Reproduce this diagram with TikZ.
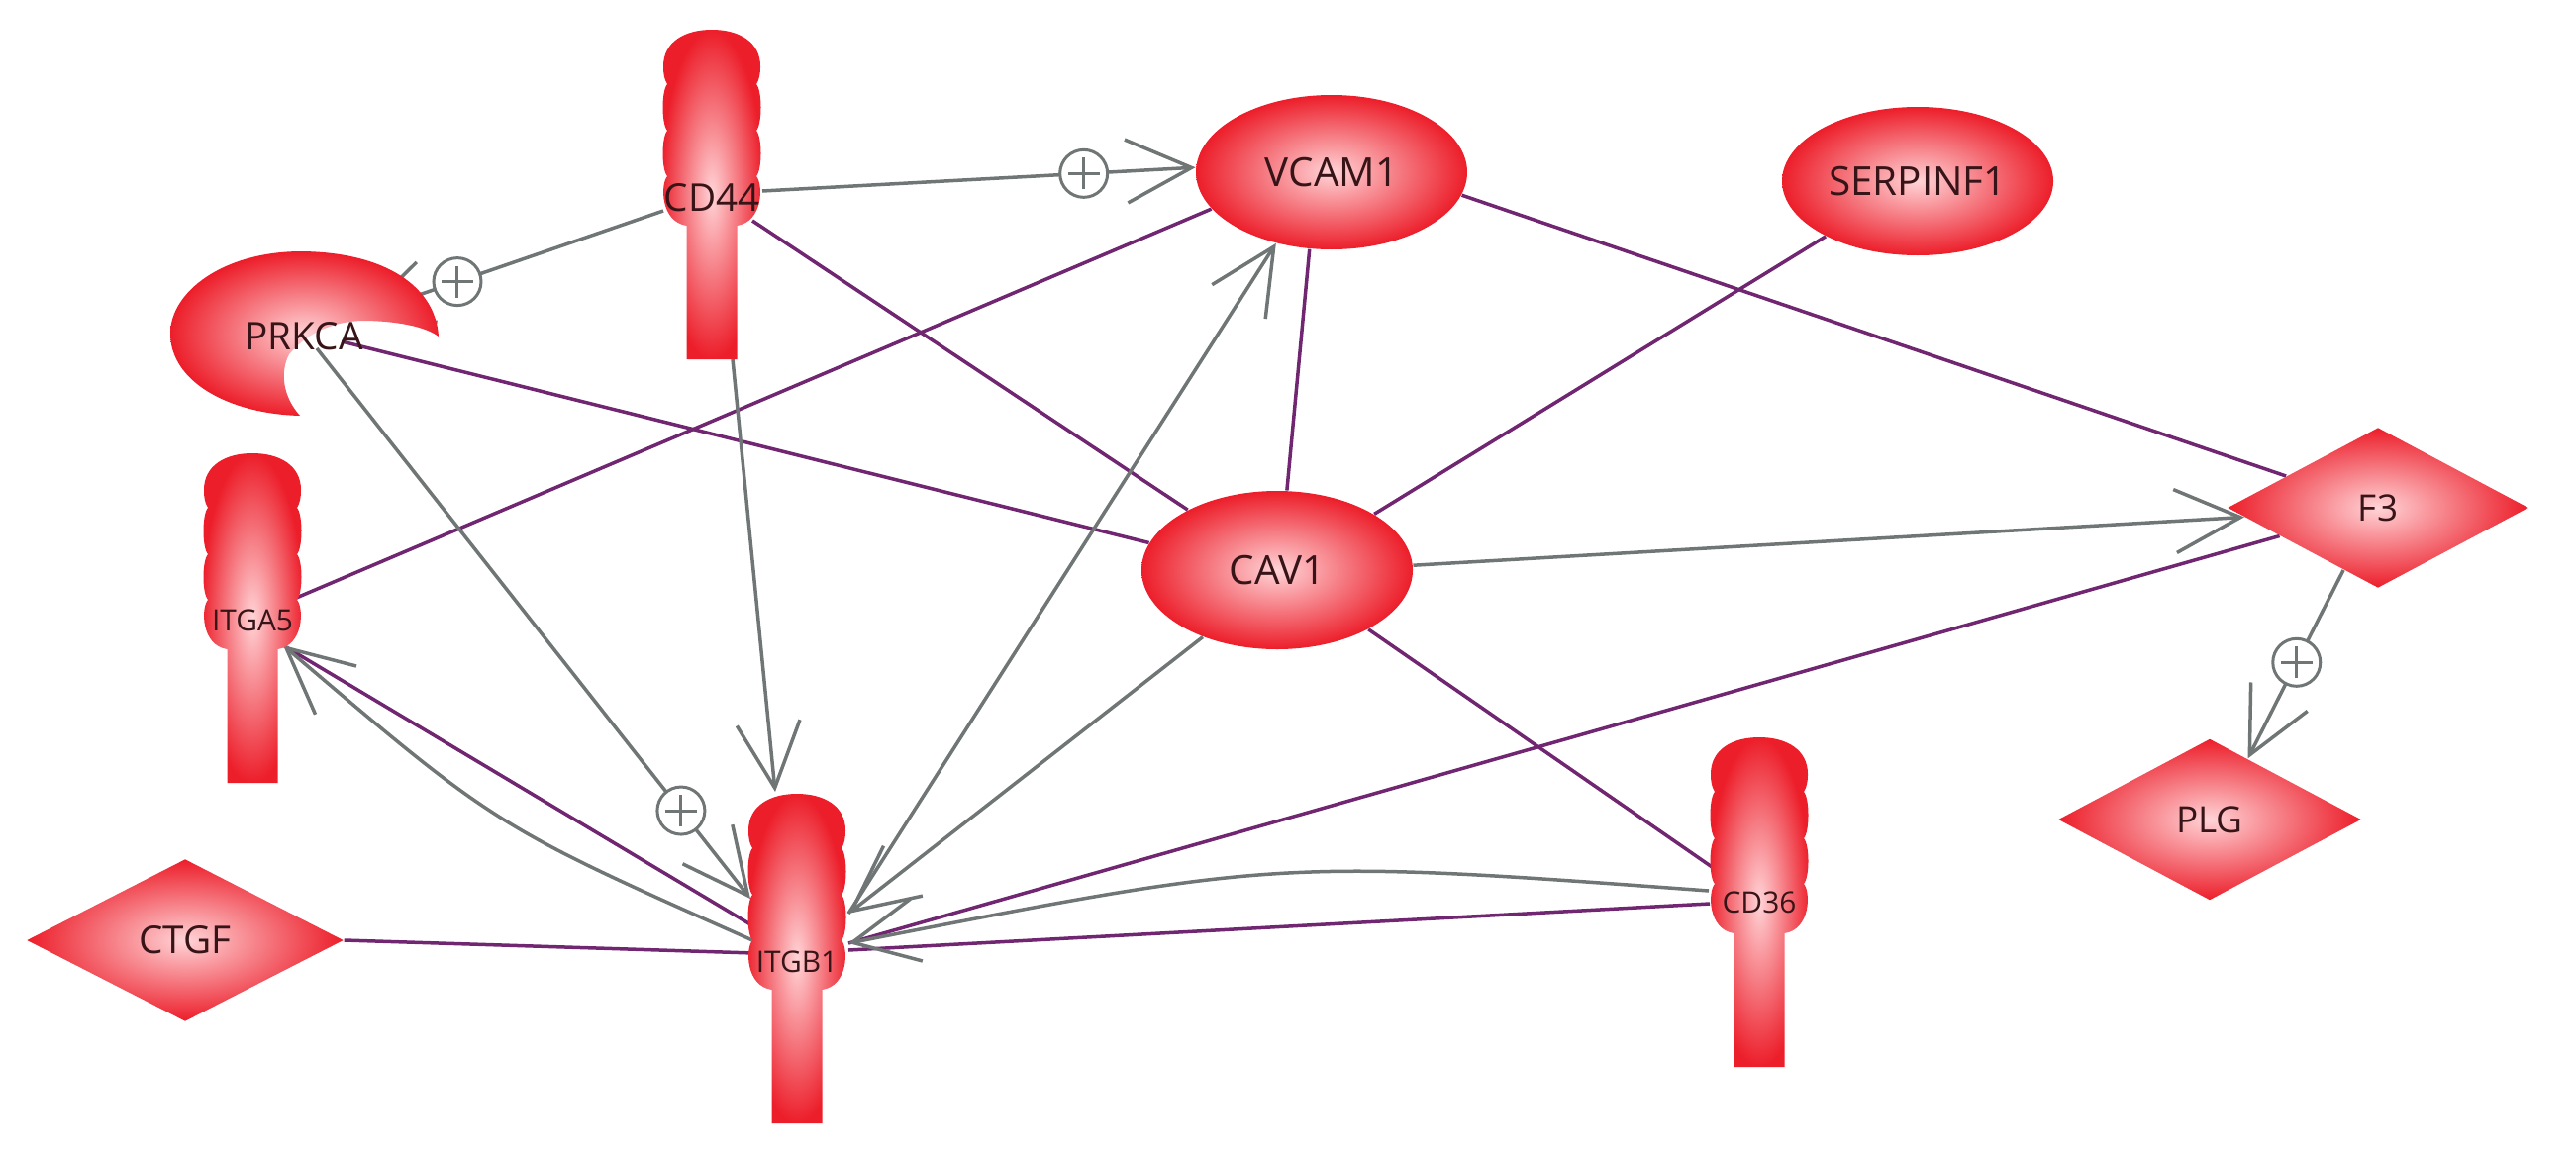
\documentclass[tikz,border=0pt]{standalone}
\usepackage{fontspec}
\setmainfont{Open Sans}
\usetikzlibrary{shapes.geometric,arrows.meta,backgrounds}
\definecolor{nred}{RGB}{236,30,42}
\definecolor{npink}{RGB}{255,212,215}
\definecolor{ntext}{RGB}{55,20,24}
\definecolor{egray}{RGB}{112,118,118}
\definecolor{epurple}{RGB}{112,38,112}
\tikzset{
  redshade/.style={shade, inner color=npink, outer color=nred},
  ell/.style={ellipse, redshade, minimum width=27.4mm, minimum height=15.6mm, inner sep=0pt, text=ntext, font=\fontsize{11.5}{13}\selectfont},
  dia/.style={diamond, aspect=1.9, redshade, minimum width=30.4mm, minimum height=16.2mm, inner sep=0pt, text=ntext, font=\fontsize{10.5}{12}\selectfont},
  rlab/.style={inner sep=0pt, text=ntext, font=\fontsize{8.5}{10}\selectfont},
  act/.style={draw=egray, line width=0.35mm, -{Straight Barb[length=6.6mm, width=6.4mm]}},
  bind/.style={draw=epurple, line width=0.35mm},
  oplus/.style={circle, draw=egray, fill=white, line width=0.3mm, minimum size=4.8mm, inner sep=0pt,
    path picture={\draw[egray, line width=0.3mm]
      ([xshift=-1.6mm]path picture bounding box.center) -- ([xshift=1.6mm]path picture bounding box.center)
      ([yshift=-1.6mm]path picture bounding box.center) -- ([yshift=1.6mm]path picture bounding box.center);}},
  receptor/.pic={
    \path[redshade]
      (-49,37) .. controls (-49,12) and (-27,0) .. (0,0)
      .. controls (27,0) and (49,12) .. (49,37)
      .. controls (49,45) and (48,50) .. (45,55)
      .. controls (51,62) and (51,95) .. (45,102)
      .. controls (51,109) and (51,141) .. (45,148)
      .. controls (52,156) and (52,194) .. (25.5,198)
      -- (25.5,333) -- (-25.5,333) -- (-25.5,198)
      .. controls (-52,194) and (-52,156) .. (-45,148)
      .. controls (-51,141) and (-51,109) .. (-45,102)
      .. controls (-51,95) and (-51,62) .. (-45,55)
      .. controls (-48,50) and (-49,45) .. (-49,37) -- cycle;
  }
}
\begin{document}
\begin{tikzpicture}[x=0.1mm,y=-0.1mm]
\useasboundingbox (0,0) rectangle (2602,1168);

% receptors
\pic at (719,30) {receptor};
\pic at (255,458) {receptor};
\pic at (805,802) {receptor};
\pic at (1777,745) {receptor};
\node[rlab, font=\fontsize{11}{13}\selectfont] (cd44) at (719,200) {CD44};
\node[rlab] (itga5) at (255,627) {ITGA5};
\node[rlab] (itgb1) at (805,972) {ITGB1};
\node[rlab] (cd36) at (1777,912) {CD36};

% PRKCA
\path[redshade] (443,340) .. controls (440,290) and (390,255) .. (305,254)
  .. controls (225,254) and (172,295) .. (172,337)
  .. controls (172,385) and (230,418) .. (303,420)
  .. controls (285,400) and (283,375) .. (292,358)
  .. controls (312,334) and (340,325) .. (365,324)
  .. controls (400,324) and (430,330) .. (443,340) -- cycle;
\node[rlab, font=\fontsize{11}{13}\selectfont] (prkca) at (307,340) {PRKCA};

% other nodes
\node[ell] (vcam1) at (1345,174) {VCAM1};
\node[ell, minimum height=15mm] (serp) at (1937,183) {SERPINF1};
\node[ell, minimum height=16mm] (cav1) at (1290,576) {CAV1};
\node[dia] (f3) at (2402,513) {F3};
\node[dia, minimum width=30.6mm, minimum height=16.3mm] (plg) at (2232,828) {PLG};
\node[dia, minimum width=32mm, minimum height=16.4mm, font=\fontsize{11}{13}\selectfont] (ctgf) at (187,950) {CTGF};

% attachment points
\coordinate (cd44-e) at (770,193);
\coordinate (cd44-w) at (670,213);
\coordinate (cd44-s) at (740,363);
\coordinate (cd44-se) at (760,223);
\coordinate (itga5-ur) at (297,605);
\coordinate (itga5-r) at (286,652);
\coordinate (itgb1-t) at (783,800);
\coordinate (itgb1-w1) at (758,908);
\coordinate (itgb1-w2) at (763,937);
\coordinate (itgb1-w3) at (760,950);
\coordinate (itgb1-w4) at (762,963);
\coordinate (itgb1-e1) at (857,923);
\coordinate (itgb1-e2) at (857,953);
\coordinate (itgb1-e3) at (857,960);
\coordinate (cd36-w1) at (1735,880);
\coordinate (cd36-w2) at (1726,900);
\coordinate (cd36-w3) at (1727,913);
\coordinate (prkca-in) at (365,318);
\coordinate (prkca-c) at (320,352);
\coordinate (prkca-r) at (345,345);

\begin{scope}[on background layer]
\draw[bind] (cd44-se) -- (cav1.146);
\draw[bind] (prkca-r) -- (cav1.168);
\draw[bind] (itga5-ur) -- (vcam1.197);
\draw[bind] (vcam1.254) -- (cav1.83);
\draw[bind] (vcam1.-10) -- (f3.161);
\draw[bind] (serp.211) -- (cav1.30);
\draw[bind] (f3.196) -- (itgb1-e2);
\draw[bind] (cav1.-33) -- (cd36-w1);
\draw[bind] (cd36-w3) -- (itgb1-e3);
\draw[bind] (ctgf.east) -- (itgb1-w4);
\draw[bind] (itga5-r) -- (itgb1-w2);
\draw[act] (cd44-e) -- (vcam1.178);
\draw[act] (cd44-w) -- (prkca-in);
\draw[act] (cd44-s) -- (itgb1-t);
\draw[act] (prkca-c) -- (itgb1-w1);
\draw[act] (itgb1-w3) .. controls (501,835) .. (itga5-r);
\draw[act] (itgb1-e1) -- (vcam1.232);
\draw[act] (cav1.222) -- (itgb1-e1);
\draw[act] (cav1.2) -- (f3.184);
\draw[act] (cd36-w2) .. controls (1292,868) .. (itgb1-e2);
\draw[act] (f3.241) -- (plg.58);
\end{scope}

% plus marks
\path (cd44-e) -- node[oplus, pos=0.742]{} (vcam1.178);
\path (cd44-w) -- node[oplus, pos=0.682]{} (prkca-in);
\path (prkca-c) -- node[oplus, pos=0.84]{} (itgb1-w1);
\path (f3.241) -- node[oplus, pos=0.49]{} (plg.58);
\end{tikzpicture}
\end{document}
